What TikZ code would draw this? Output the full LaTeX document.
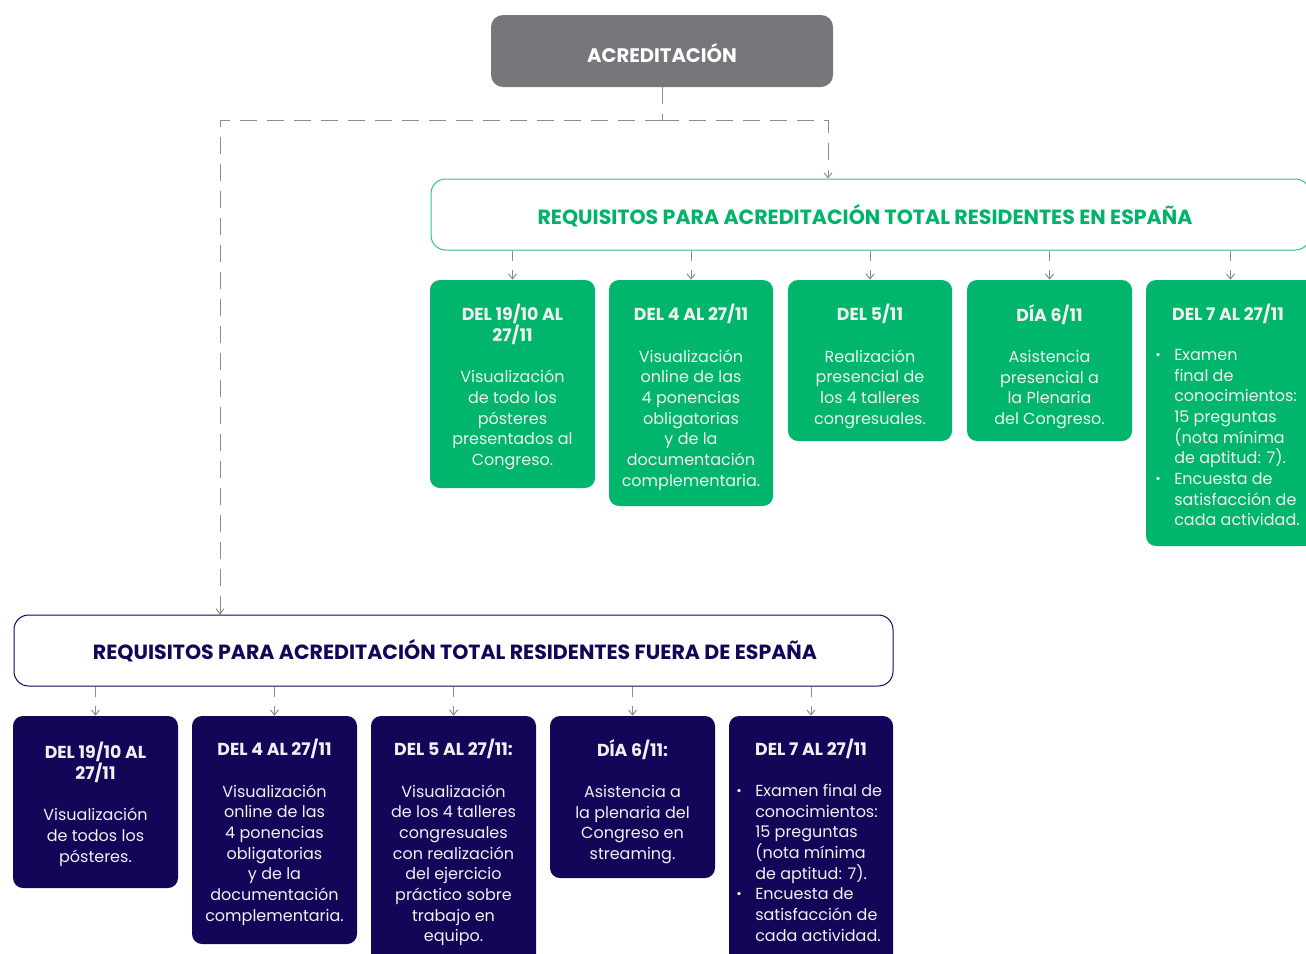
\documentclass[tikz,border=0pt]{standalone}
\usepackage{fontspec}
\setmainfont{Poppins}
\usetikzlibrary{arrows.meta,fit}
\definecolor{accgray}{RGB}{119,118,123}
\definecolor{grn}{RGB}{0,181,108}
\definecolor{grnline}{RGB}{45,196,138}
\definecolor{grntxt}{RGB}{0,179,106}
\definecolor{navy}{RGB}{19,6,88}
\definecolor{conn}{RGB}{140,140,140}
\definecolor{boxtxt}{RGB}{240,240,240}
\newcommand\bul{\makebox[14.25pt][l]{\fontsize{10}{10}\selectfont\raisebox{0.8pt}{•}}}
\newcommand\ind{\hspace*{14.25pt}}
\newcommand\hd{\fontsize{13}{15.5}\selectfont\bfseries}
\begin{document}
\begin{tikzpicture}[x=0.75pt,y=-0.75pt,
  box/.style={rounded corners=7.5pt, inner sep=0pt},
  gbox/.style={box, fill=grn},
  nbox/.style={box, fill=navy},
  btxt/.style={text=boxtxt, align=center, inner sep=0pt, anchor=north, font=\fontsize{12}{15.5}\selectfont},
  ttl/.style={font=\fontsize{15.4}{17}\selectfont\bfseries, inner sep=0pt},
  longdash/.style={draw=conn, line width=0.75pt, dash pattern=on 12.75pt off 7.5pt},
  shortdash/.style={draw=conn, line width=0.75pt, dash pattern=on 7.5pt off 6.75pt, -{Straight Barb[length=3.75pt,width=6pt]}}
]
\useasboundingbox (0,0) rectangle (1306,953);

% top
\node[box, rounded corners=9pt, fill=accgray, fit={(491,15) (833,87)}] (acc) {};
\node[ttl, font=\fontsize{14.7}{17}\selectfont\bfseries, text=white] (acct) at (662,53) {ACREDITACIÓN};

% titles
\node[box, rounded corners=11pt, draw=grnline, line width=0.75pt, fill=white, fit={(431,179) (1310,250)}] (gt) {};
\node[ttl, text=grntxt] (gtt) at (865,216) {REQUISITOS PARA ACREDITACIÓN TOTAL RESIDENTES EN ESPAÑA};
\node[box, rounded corners=11pt, draw=navy, line width=0.75pt, fill=white, fit={(14,615) (893,686)}] (nt) {};
\node[ttl, text=navy] (ntt) at (455,651) {REQUISITOS PARA ACREDITACIÓN TOTAL RESIDENTES FUERA DE ESPAÑA};

% connectors from top
\coordinate (j) at (662,120);
\coordinate (jl) at (220,120);
\coordinate (jr) at (828,120);
\draw[longdash] (acc.south) -- (j);
\draw[longdash, -{Straight Barb[length=3.75pt,width=6pt]}] (j) -- (jr) -- (jr |- gt.north);
\draw[longdash, -{Straight Barb[length=3.75pt,width=6pt]}] (j) -- (jl) -- (jl |- nt.north);

% green boxes
\node[gbox, fit={(430,280) (595,488)}] (g1) {};
\node[gbox, fit={(609,280) (773,506)}] (g2) {};
\node[gbox, fit={(788,280) (952,441)}] (g3) {};
\node[gbox, fit={(967,280) (1132,441)}] (g4) {};
\node[gbox, fit={(1146,280) (1315,546)}] (g5) {};
\foreach \b in {g1,g2,g3,g4,g5}{\draw[shortdash] (gt.south -| \b.north) -- (\b.north);}

\node[btxt] (g1t) at (512.5,304) {\hd DEL 19/10 AL\\\hd 27/11\\[15.5pt]Visualización\\de todo los\\pósteres\\presentados al\\Congreso.};
\node[btxt] (g2t) at (691,304) {\hd DEL 4 AL 27/11\\[15.5pt]Visualización\\online de las\\4 ponencias\\obligatorias\\y de la\\documentación\\complementaria.};
\node[btxt] (g3t) at (870,304) {\hd DEL 5/11\\[15.5pt]Realización\\presencial de\\los 4 talleres\\congresuales.};
\node[btxt] (g4t) at (1049.5,304) {\hd DÍA 6/11\\[15.5pt]Asistencia\\presencial a\\la Plenaria\\del Congreso.};
\node[btxt] (g5h) at (1228,304) {\hd DEL 7 AL 27/11};
\node[btxt, align=left, anchor=north west] (g5t) at (1155,349) {\bul Examen\\\ind final de\\\ind conocimientos:\\\ind 15 preguntas\\\ind (nota mínima\\\ind de aptitud: 7).\\\bul Encuesta de\\\ind satisfacción de\\\ind cada actividad.};

% navy boxes
\node[nbox, fit={(13,716) (178,888)}] (n1) {};
\node[nbox, fit={(192,716) (357,944)}] (n2) {};
\node[nbox, fit={(371,716) (536,965)}] (n3) {};
\node[nbox, fit={(550,716) (715,878)}] (n4) {};
\node[nbox, fit={(729,716) (893,965)}] (n5) {};
\foreach \b in {n1,n2,n3,n4,n5}{\draw[shortdash] (nt.south -| \b.north) -- (\b.north);}

\node[btxt] (n1t) at (95.5,742) {\hd DEL 19/10 AL\\\hd 27/11\\[15.5pt]Visualización\\de todos los\\pósteres.};
\node[btxt] (n2t) at (274.5,739) {\hd DEL 4 AL 27/11\\[15.5pt]Visualización\\online de las\\4 ponencias\\obligatorias\\y de la\\documentación\\complementaria.};
\node[btxt] (n3t) at (453.5,739) {\hd DEL 5 AL 27/11:\\[15.5pt]Visualización\\de los 4 talleres\\congresuales\\con realización\\del ejercicio\\práctico sobre\\trabajo en\\equipo.};
\node[btxt] (n4t) at (632.5,739) {\hd DÍA 6/11:\\[15.5pt]Asistencia a\\la plenaria del\\Congreso en\\streaming.};
\node[btxt] (n5h) at (811,739) {\hd DEL 7 AL 27/11};
\node[btxt, align=left, anchor=north west] (n5t) at (736,784) {\bul Examen final de\\\ind conocimientos:\\\ind 15 preguntas\\\ind (nota mínima\\\ind de aptitud: 7).\\\bul Encuesta de\\\ind satisfacción de\\\ind cada actividad.};
\end{tikzpicture}
\end{document}
